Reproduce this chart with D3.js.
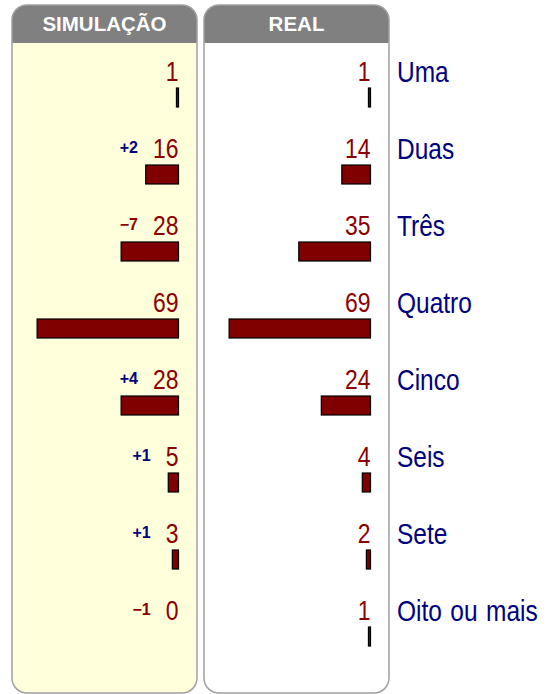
<!DOCTYPE html>
<html>
<head>
<meta charset="utf-8">
<script src="https://cdn.jsdelivr.net/npm/d3@7"></script>
<style>
  body { margin: 0; background: #fff; }
  svg { display: block; }
</style>
</head>
<body>
<svg id="chart" width="548" height="694"></svg>
<script>
// data
var categories = ["Uma", "Duas", "Três", "Quatro", "Cinco", "Seis", "Sete", "Oito ou mais"];
var simValues = [1, 16, 28, 69, 28, 5, 3, 0];
var realValues = [1, 14, 35, 69, 24, 4, 2, 1];
var panelTitles = ["SIMULAÇÃO", "REAL"];

var svg = d3.select("#chart");

var y = d3.scaleBand().domain(categories).range([52, 52 + 77 * categories.length]);
var x = d3.scaleLinear().domain([0, 69]).range([0, 141.4]);

// squeezed Liberation Sans stands in for Arial Narrow
function narrowText(sel, tx, ty, squeeze) {
    return sel.append("text")
        .attr("transform", "translate(" + tx + "," + ty + ") scale(" + squeeze + ",1)")
        .style("font-family", "'Liberation Sans', Arial, sans-serif");
}

var panels = [
    { title: panelTitles[0], x0: 12, x1: 197, fill: "#ffffdc", values: simValues, diff: true },
    { title: panelTitles[1], x0: 204, x1: 389, fill: "#ffffff", values: realValues, diff: false }
];

var defs = svg.append("defs");

panels.forEach(function (p, k) {
    var w = p.x1 - p.x0;
    var g = svg.append("g");

    defs.append("clipPath").attr("id", "clip" + k)
        .append("rect")
        .attr("x", p.x0).attr("y", 5)
        .attr("width", w).attr("height", 688)
        .attr("rx", 15).attr("ry", 15);

    g.append("rect")
        .attr("x", p.x0).attr("y", 5)
        .attr("width", w).attr("height", 688)
        .attr("rx", 15).attr("ry", 15)
        .attr("fill", p.fill);

    g.append("rect")
        .attr("clip-path", "url(#clip" + k + ")")
        .attr("x", p.x0).attr("y", 5)
        .attr("width", w).attr("height", 38)
        .attr("fill", "#808080");

    g.append("rect")
        .attr("x", p.x0).attr("y", 5)
        .attr("width", w).attr("height", 688)
        .attr("rx", 15).attr("ry", 15)
        .attr("fill", "none")
        .attr("stroke", "#a0a0a0")
        .attr("stroke-width", 1.5);

    g.append("text")
        .attr("x", (p.x0 + p.x1) / 2)
        .attr("y", 31)
        .attr("text-anchor", "middle")
        .attr("fill", "#ffffff")
        .style("font-family", "'Liberation Sans', Arial, sans-serif")
        .style("font-weight", "bold")
        .style("font-size", "20.5px")
        .text(p.title);

    var right = p.x1 - 18.5;

    var rows = g.selectAll("g.row").data(p.values).enter().append("g")
        .attr("class", "row")
        .attr("transform", function (d, i) { return "translate(0," + y(categories[i]) + ")"; });

    rows.append("rect")
        .attr("x", function (d) { return right - x(d); })
        .attr("y", 36)
        .attr("width", function (d) { return x(d); })
        .attr("height", 19)
        .attr("fill", "#800000")
        .attr("stroke", "#000")
        .attr("stroke-width", 1.2);

    rows.each(function (d, i) {
        var row = d3.select(this);
        var num = narrowText(row, right, 29, 0.82)
            .attr("text-anchor", "end")
            .attr("fill", "#8b0000")
            .style("font-size", "28px")
            .text(d);
        if (!p.diff) return;
        var delta = d - realValues[i];
        if (delta === 0) return;
        var tw = num.node().getComputedTextLength() * 0.82;
        row.append("text")
            .attr("x", right - tw - 15)
            .attr("y", 24)
            .attr("text-anchor", "end")
            .attr("fill", delta > 0 ? "#000080" : "#8b0000")
            .style("font-family", "'Liberation Sans', Arial, sans-serif")
            .style("font-weight", "bold")
            .style("font-size", "16px")
            .text((delta > 0 ? "+" : "\u2212") + Math.abs(delta));
    });
});

// category labels
categories.forEach(function (c) {
    narrowText(svg, 397, y(c) + 29.5, 0.83)
        .attr("fill", "#000080")
        .style("font-size", "29.5px")
        .style("word-spacing", "2px")
        .text(c);
});
</script>
</body>
</html>
